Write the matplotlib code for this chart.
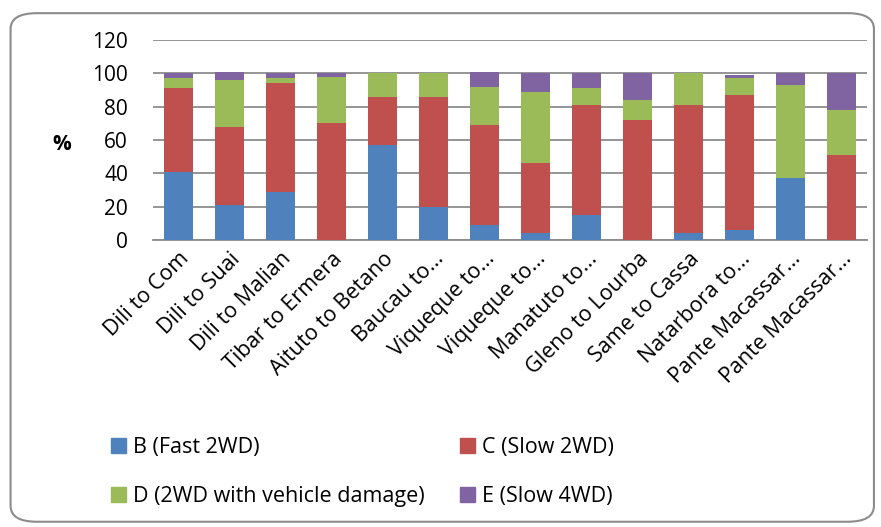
import numpy as np
import matplotlib
matplotlib.use("Agg")
import matplotlib.pyplot as plt
from matplotlib.patches import FancyBboxPatch, Patch

plt.rcParams['font.family'] = ['Open Sans', 'DejaVu Sans']

routes = ['Dili to Com', 'Dili to Suai', 'Dili to Malian', 'Tibar to Ermera',
          'Aituto to Betano', 'Baucau to...', 'Viqueque to...', 'Viqueque to...',
          'Manatuto to...', 'Gleno to Lourba', 'Same to Cassa', 'Natarbora to...',
          'Pante Macassar...', 'Pante Macassar...']

fast_2wd = [41, 21, 29, 0, 57, 20, 9, 4, 15, 0, 4, 6, 37, 0]
slow_2wd = [50, 47, 65, 70, 29, 66, 60, 42, 66, 72, 77, 81, 0, 51]
damage_2wd = [6, 28, 3, 28, 14, 14, 23, 43, 10, 12, 19, 10, 56, 27]
slow_4wd = [3, 5, 3, 2, 0, 0, 9, 11, 9, 16, 0, 2, 7, 22]

series = [('B (Fast 2WD)', fast_2wd, '#4F81BD'),
          ('C (Slow 2WD)', slow_2wd, '#C0504D'),
          ('D (2WD with vehicle damage)', damage_2wd, '#9BBB59'),
          ('E (Slow 4WD)', slow_4wd, '#8064A2')]

fig = plt.figure(figsize=(8.81, 5.27), dpi=100)

# rounded chart border
border = FancyBboxPatch((0.012, 0.01), 0.98, 0.965,
                        boxstyle='round,pad=0,rounding_size=0.03',
                        transform=fig.transFigure, facecolor='none',
                        edgecolor='#8c8c8c', linewidth=1.5, zorder=0)
fig.patches.append(border)

ax = fig.add_axes([153 / 881, 1 - 240 / 527, 714 / 881, 200 / 527])
ax.set_facecolor('none')

x = np.arange(len(routes))
bottom = np.zeros(len(routes))
handles = {}
for label, vals, color in series:
    vals = np.array(vals, dtype=float)
    ax.bar(x, vals, bottom=bottom, width=0.57, color=color, zorder=3)
    bottom += vals
    handles[label] = Patch(color=color, label=label)

ax.set_xlim(-0.5, len(routes) - 0.5)
ax.set_ylim(0, 120)
ax.set_yticks(range(0, 121, 20))
ax.yaxis.grid(True, color='#8c8c8c', linewidth=1.3, zorder=0)
ax.set_axisbelow(True)
for s in ax.spines.values():
    s.set_visible(False)
ax.spines['bottom'].set_visible(True)
ax.spines['bottom'].set_color('#8c8c8c')
ax.spines['bottom'].set_linewidth(1.3)
ax.tick_params(axis='y', length=0, pad=18, labelsize=15)
ax.tick_params(axis='x', length=0, pad=6)
ax.set_xticks(x)
ax.set_xticklabels(routes, rotation=45, ha='right', va='top',
                   rotation_mode='anchor', fontsize=15.5)

fig.text(62 / 881, 1 - 145 / 527, '%', fontsize=15, fontweight='bold',
         ha='center', va='center')

# legend: B/C on first row, D/E on second
order = ['B (Fast 2WD)', 'D (2WD with vehicle damage)',
         'C (Slow 2WD)', 'E (Slow 4WD)']
fig.legend(handles=[handles[k] for k in order], ncol=2,
           loc='upper left', bbox_to_anchor=(92 / 881, 1 - 418 / 527),
           frameon=False, fontsize=15.5, handlelength=0.7, handleheight=0.7,
           handletextpad=0.3, columnspacing=1.65, labelspacing=1.3)

fig.savefig('out.png', dpi=100)
